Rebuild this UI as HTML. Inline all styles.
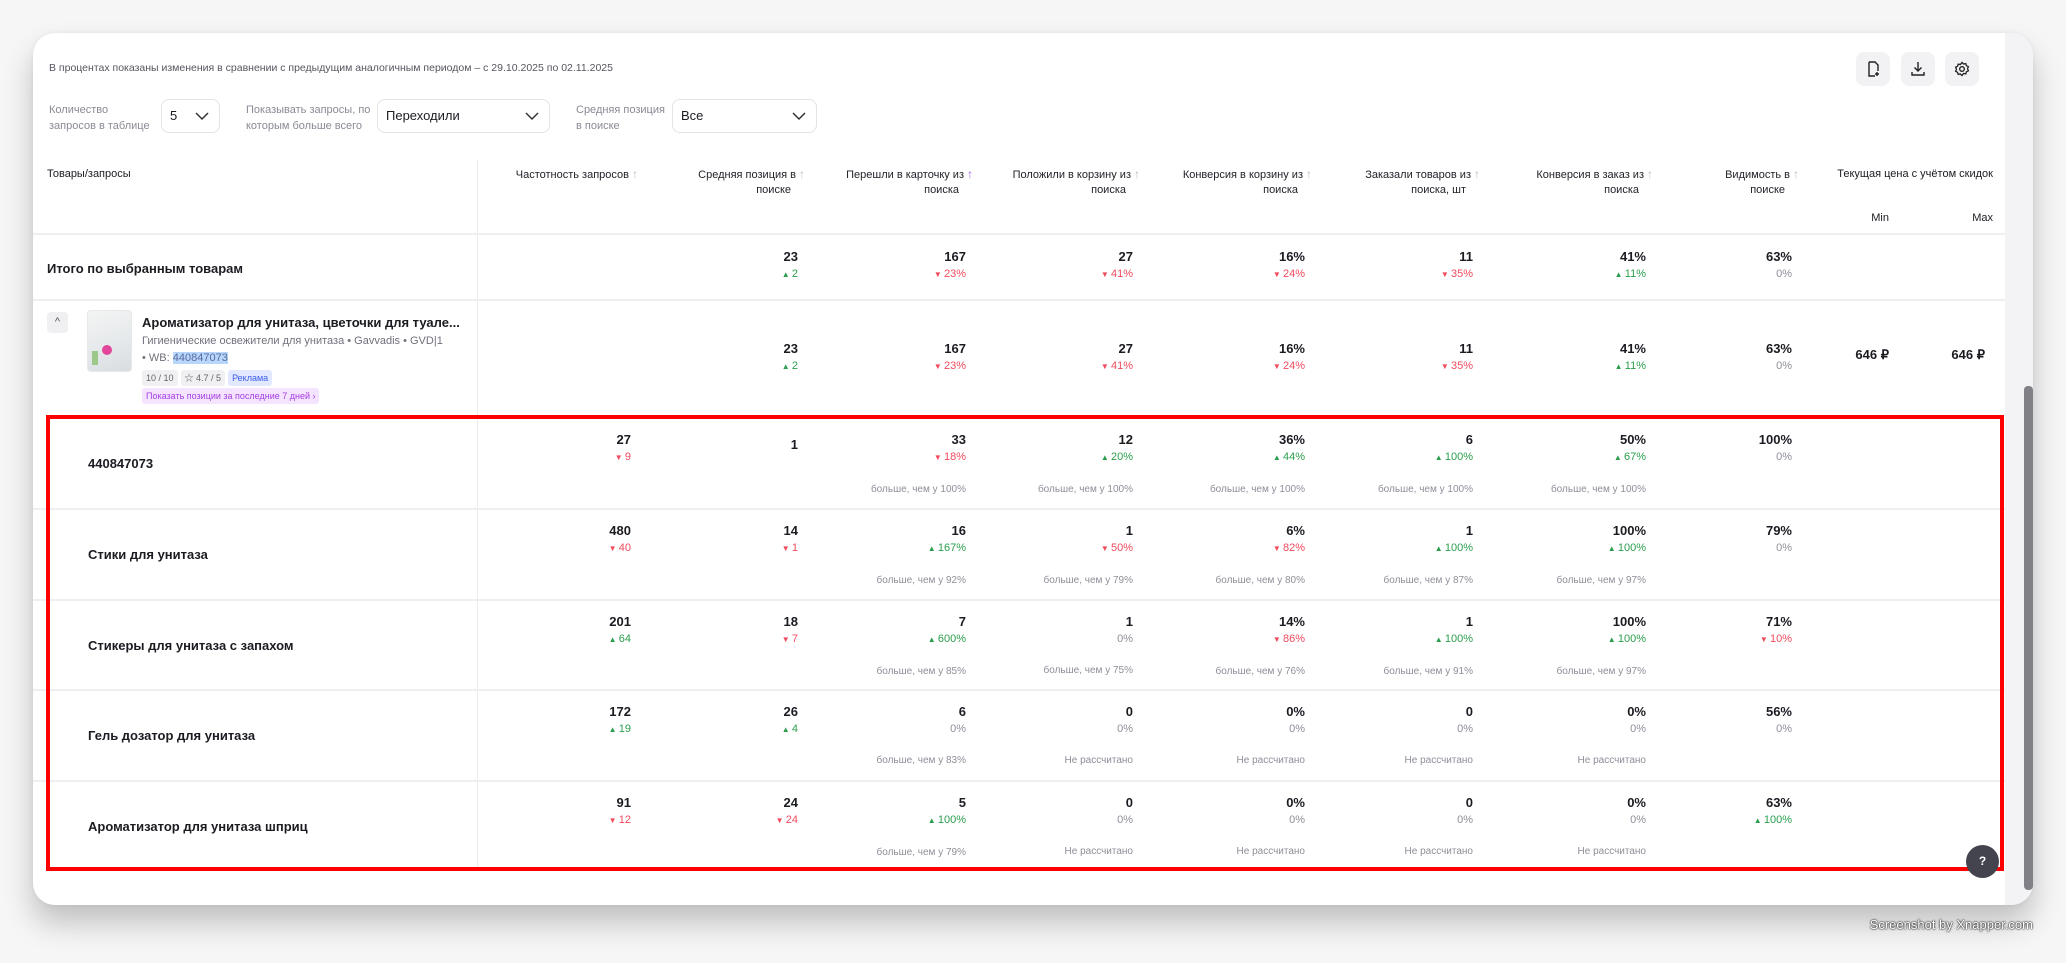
<!DOCTYPE html>
<html><head><meta charset="utf-8">
<style>
*{margin:0;padding:0;box-sizing:border-box}
body{width:2066px;height:963px;background:#f6f6f7;font-family:"Liberation Sans","Noto Sans CJK SC",sans-serif;position:relative;overflow:hidden;color:#1b1b22}
.card{position:absolute;left:33px;top:33px;width:2000px;height:872px;background:#fff;border-radius:22px;box-shadow:0 18px 30px rgba(0,0,0,.22),0 0 6px rgba(0,0,0,.06);overflow:hidden}
.track{position:absolute;left:2005px;top:33px;width:28px;height:872px;background:#f3f3f5;border-radius:0 22px 22px 0}
.thumb{position:absolute;left:2024px;top:386px;width:9px;height:504px;background:#808086;border-radius:4px}
.a{position:absolute;white-space:nowrap}
.hline{position:absolute;left:33px;width:1972px;height:2px;background:#efeff2}
.lbl{font-size:11px;color:#8a8a96;line-height:16px}
.sel{position:absolute;height:34px;border:1px solid #e3e3e8;border-radius:8px;font-size:13px;line-height:32px;padding-left:8px;color:#1b1b22}
.sel svg{position:absolute;right:10px;top:11px}
.btn{position:absolute;top:52px;width:34px;height:34px;background:#f2f2f5;border-radius:8px}
.btn svg{position:absolute;left:9px;top:9px}
.h{position:absolute;top:167px;font-size:11px;line-height:15px;text-align:right;color:#22222a;width:200px}
.h i{font-style:normal;color:#b8b8c4;font-size:12px;margin-left:3px}
.h .p{color:#a45cf5}
.h span.l2{display:block;padding-right:14px}
.cell{position:absolute;width:160px;text-align:right}
.n{font-size:13px;font-weight:bold;line-height:16px;display:block}
.c{font-size:11px;line-height:18px;display:block}
.s{font-size:10px;line-height:14px;margin-top:16px;display:block;color:#8e8e99}
.up{color:#2a9e4c}.dn{color:#f04a5d}.z{color:#8e8e99}
.up:before{content:"▲ ";font-size:8px}
.dn:before{content:"▼ ";font-size:8px}
.q{position:absolute;left:88px;font-size:13px;font-weight:bold;line-height:18px}
.red{position:absolute;left:46px;top:415px;width:1958px;height:456px;border:4px solid #ff0000}
.badge{display:inline-block;font-size:9px;line-height:16px;padding:0 4px;border-radius:3px;margin-right:3px}
</style></head><body>
<div class="card"></div>
<div class="track"></div>
<div class="thumb"></div>

<div class="a" style="left:49px;top:62px;font-size:10.5px;color:#555560">В процентах показаны изменения в сравнении с предыдущим аналогичным периодом – с 29.10.2025 по 02.11.2025</div>

<div class="a lbl" style="left:49px;top:102px">Количество<br>запросов в таблице</div>
<div class="sel" style="left:161px;top:99px;width:59px">5<svg width="14" height="10"><path d="M1 2l6 6 6-6" stroke="#333" fill="none" stroke-width="1.5"/></svg></div>
<div class="a lbl" style="left:246px;top:102px">Показывать запросы, по<br>которым больше всего</div>
<div class="sel" style="left:377px;top:99px;width:173px">Переходили<svg width="14" height="10"><path d="M1 2l6 6 6-6" stroke="#333" fill="none" stroke-width="1.5"/></svg></div>
<div class="a lbl" style="left:576px;top:102px">Средняя позиция<br>в поиске</div>
<div class="sel" style="left:672px;top:99px;width:145px">Все<svg width="14" height="10"><path d="M1 2l6 6 6-6" stroke="#333" fill="none" stroke-width="1.5"/></svg></div>

<div class="btn" style="left:1856px"><svg width="16" height="16"><path d="M4 1h6l3 3v6M4 1v14h6" stroke="#222" fill="none" stroke-width="1.4"/><path d="M12 11v4M10 13h4" stroke="#222" stroke-width="1.4"/></svg></div>
<div class="btn" style="left:1901px"><svg width="16" height="16"><path d="M8 1v9M4.5 6.5L8 10l3.5-3.5M2 11v3h12v-3" stroke="#222" fill="none" stroke-width="1.4"/></svg></div>
<div class="btn" style="left:1945px"><svg width="16" height="16"><circle cx="8" cy="8" r="2.3" stroke="#222" fill="none" stroke-width="1.4"/><path d="M8 1.5l1.6 1.5 2.2-.4.6 2.1 2 1-.9 2 .9 2.1-2 1-.6 2.1-2.2-.4L8 14.5l-1.6-1.5-2.2.4-.6-2.1-2-1 .9-2.1-.9-2 2-1 .6-2.1 2.2.4z" stroke="#222" fill="none" stroke-width="1.3"/></svg></div>

<!-- table header -->
<div class="a" style="left:47px;top:167px;font-size:11px;line-height:15px">Товары/запросы</div>
<div class="a" style="left:477px;top:160px;width:1px;height:711px;background:#ececf0"></div>
<div class="h" style="left:438px">Частотность запросов<i>↑</i></div>
<div class="h" style="left:605px">Средняя позиция в<i>↑</i><span class="l2">поиске</span></div>
<div class="h" style="left:773px">Перешли в карточку из<i class="p">↑</i><span class="l2">поиска</span></div>
<div class="h" style="left:940px">Положили в корзину из<i>↑</i><span class="l2">поиска</span></div>
<div class="h" style="left:1112px">Конверсия в корзину из<i>↑</i><span class="l2">поиска</span></div>
<div class="h" style="left:1280px">Заказали товаров из<i>↑</i><span class="l2">поиска, шт</span></div>
<div class="h" style="left:1453px">Конверсия в заказ из<i>↑</i><span class="l2">поиска</span></div>
<div class="h" style="left:1599px">Видимость в<i>↑</i><span class="l2">поиске</span></div>
<div class="a" style="right:73px;top:167px;font-size:11px;line-height:15px">Текущая цена с учётом скидок</div>
<div class="a" style="right:177px;top:211px;font-size:11px;line-height:15px">Min</div>
<div class="a" style="right:73px;top:211px;font-size:11px;line-height:15px">Max</div>

<div class="hline" style="top:233px"></div>
<div class="hline" style="top:299px"></div>
<div class="hline" style="top:508px"></div>
<div class="hline" style="top:599px"></div>
<div class="hline" style="top:689px"></div>
<div class="hline" style="top:780px"></div>

<!-- Итого -->
<div class="a" style="left:47px;top:260px;font-size:13px;font-weight:bold;line-height:18px">Итого по выбранным товарам</div>
<div class="cell" style="left:638px;top:249px"><b class="n">23</b><span class="c up">2</span></div>
<div class="cell" style="left:806px;top:249px"><b class="n">167</b><span class="c dn">23%</span></div>
<div class="cell" style="left:973px;top:249px"><b class="n">27</b><span class="c dn">41%</span></div>
<div class="cell" style="left:1145px;top:249px"><b class="n">16%</b><span class="c dn">24%</span></div>
<div class="cell" style="left:1313px;top:249px"><b class="n">11</b><span class="c dn">35%</span></div>
<div class="cell" style="left:1486px;top:249px"><b class="n">41%</b><span class="c up">11%</span></div>
<div class="cell" style="left:1632px;top:249px"><b class="n">63%</b><span class="c z">0%</span></div>

<!-- product -->
<div class="a" style="left:47px;top:312px;width:21px;height:21px;background:#f0f0f3;border-radius:4px;font-size:11px;text-align:center;line-height:21px;color:#555">^</div>
<div class="a" style="left:87px;top:310px;width:45px;height:62px;border-radius:4px;background:linear-gradient(160deg,#f4f4f4,#e4e8ea 60%,#d8dde0);border:1px solid #e8e8e8"><div style="position:absolute;left:14px;top:34px;width:10px;height:10px;border-radius:5px;background:#e2459a"></div><div style="position:absolute;left:4px;top:40px;width:6px;height:14px;background:#9cc98a"></div></div>
<div class="a" style="left:142px;top:314px;font-size:13px;font-weight:bold;line-height:18px">Ароматизатор для унитаза, цветочки для туале...</div>
<div class="a" style="left:142px;top:334px;font-size:11px;line-height:15px;color:#70707c">Гигиенические освежители для унитаза • Gavvadis • GVD|1</div>
<div class="a" style="left:142px;top:350px;font-size:11px;line-height:16px;color:#70707c">• WB: <span style="background:#b7d6fb;color:#5a6aa0">440847073</span></div>
<div class="a" style="left:142px;top:368px"><span class="badge" style="background:#f0f0f3;color:#666">10 / 10</span><span class="badge" style="background:#f0f0f3;color:#666">☆ 4.7 / 5</span><span class="badge" style="background:#e1e8ff;color:#3c5ee6">Реклама</span></div>
<div class="a" style="left:142px;top:386px"><span class="badge" style="background:#f5e4ff;color:#a43ee3">Показать позиции за последние 7 дней ›</span></div>
<div class="cell" style="left:638px;top:341px"><b class="n">23</b><span class="c up">2</span></div>
<div class="cell" style="left:806px;top:341px"><b class="n">167</b><span class="c dn">23%</span></div>
<div class="cell" style="left:973px;top:341px"><b class="n">27</b><span class="c dn">41%</span></div>
<div class="cell" style="left:1145px;top:341px"><b class="n">16%</b><span class="c dn">24%</span></div>
<div class="cell" style="left:1313px;top:341px"><b class="n">11</b><span class="c dn">35%</span></div>
<div class="cell" style="left:1486px;top:341px"><b class="n">41%</b><span class="c up">11%</span></div>
<div class="cell" style="left:1632px;top:341px"><b class="n">63%</b><span class="c z">0%</span></div>
<div class="a" style="right:177px;top:347px;font-size:13px;font-weight:bold">646 ₽</div>
<div class="a" style="right:81px;top:347px;font-size:13px;font-weight:bold">646 ₽</div>

<!-- query rows -->
<div class="q" style="top:455px">440847073</div>
<div class="cell" style="left:471px;top:432px"><b class="n">27</b><span class="c dn">9</span></div>
<div class="cell" style="left:638px;top:437px"><b class="n">1</b></div>
<div class="cell" style="left:806px;top:432px"><b class="n">33</b><span class="c dn">18%</span><span class="s">больше, чем у 100%</span></div>
<div class="cell" style="left:973px;top:432px"><b class="n">12</b><span class="c up">20%</span><span class="s">больше, чем у 100%</span></div>
<div class="cell" style="left:1145px;top:432px"><b class="n">36%</b><span class="c up">44%</span><span class="s">больше, чем у 100%</span></div>
<div class="cell" style="left:1313px;top:432px"><b class="n">6</b><span class="c up">100%</span><span class="s">больше, чем у 100%</span></div>
<div class="cell" style="left:1486px;top:432px"><b class="n">50%</b><span class="c up">67%</span><span class="s">больше, чем у 100%</span></div>
<div class="cell" style="left:1632px;top:432px"><b class="n">100%</b><span class="c z">0%</span></div>

<div class="q" style="top:546px">Стики для унитаза</div>
<div class="cell" style="left:471px;top:523px"><b class="n">480</b><span class="c dn">40</span></div>
<div class="cell" style="left:638px;top:523px"><b class="n">14</b><span class="c dn">1</span></div>
<div class="cell" style="left:806px;top:523px"><b class="n">16</b><span class="c up">167%</span><span class="s">больше, чем у 92%</span></div>
<div class="cell" style="left:973px;top:523px"><b class="n">1</b><span class="c dn">50%</span><span class="s">больше, чем у 79%</span></div>
<div class="cell" style="left:1145px;top:523px"><b class="n">6%</b><span class="c dn">82%</span><span class="s">больше, чем у 80%</span></div>
<div class="cell" style="left:1313px;top:523px"><b class="n">1</b><span class="c up">100%</span><span class="s">больше, чем у 87%</span></div>
<div class="cell" style="left:1486px;top:523px"><b class="n">100%</b><span class="c up">100%</span><span class="s">больше, чем у 97%</span></div>
<div class="cell" style="left:1632px;top:523px"><b class="n">79%</b><span class="c z">0%</span></div>

<div class="q" style="top:637px">Стикеры для унитаза с запахом</div>
<div class="cell" style="left:471px;top:614px"><b class="n">201</b><span class="c up">64</span></div>
<div class="cell" style="left:638px;top:614px"><b class="n">18</b><span class="c dn">7</span></div>
<div class="cell" style="left:806px;top:614px"><b class="n">7</b><span class="c up">600%</span><span class="s">больше, чем у 85%</span></div>
<div class="cell" style="left:973px;top:614px"><b class="n">1</b><span class="c z">0%</span><span class="s">больше, чем у 75%</span></div>
<div class="cell" style="left:1145px;top:614px"><b class="n">14%</b><span class="c dn">86%</span><span class="s">больше, чем у 76%</span></div>
<div class="cell" style="left:1313px;top:614px"><b class="n">1</b><span class="c up">100%</span><span class="s">больше, чем у 91%</span></div>
<div class="cell" style="left:1486px;top:614px"><b class="n">100%</b><span class="c up">100%</span><span class="s">больше, чем у 97%</span></div>
<div class="cell" style="left:1632px;top:614px"><b class="n">71%</b><span class="c dn">10%</span></div>

<div class="q" style="top:727px">Гель дозатор для унитаза</div>
<div class="cell" style="left:471px;top:704px"><b class="n">172</b><span class="c up">19</span></div>
<div class="cell" style="left:638px;top:704px"><b class="n">26</b><span class="c up">4</span></div>
<div class="cell" style="left:806px;top:704px"><b class="n">6</b><span class="c z">0%</span><span class="s">больше, чем у 83%</span></div>
<div class="cell" style="left:973px;top:704px"><b class="n">0</b><span class="c z">0%</span><span class="s">Не рассчитано</span></div>
<div class="cell" style="left:1145px;top:704px"><b class="n">0%</b><span class="c z">0%</span><span class="s">Не рассчитано</span></div>
<div class="cell" style="left:1313px;top:704px"><b class="n">0</b><span class="c z">0%</span><span class="s">Не рассчитано</span></div>
<div class="cell" style="left:1486px;top:704px"><b class="n">0%</b><span class="c z">0%</span><span class="s">Не рассчитано</span></div>
<div class="cell" style="left:1632px;top:704px"><b class="n">56%</b><span class="c z">0%</span></div>

<div class="q" style="top:818px">Ароматизатор для унитаза шприц</div>
<div class="cell" style="left:471px;top:795px"><b class="n">91</b><span class="c dn">12</span></div>
<div class="cell" style="left:638px;top:795px"><b class="n">24</b><span class="c dn">24</span></div>
<div class="cell" style="left:806px;top:795px"><b class="n">5</b><span class="c up">100%</span><span class="s">больше, чем у 79%</span></div>
<div class="cell" style="left:973px;top:795px"><b class="n">0</b><span class="c z">0%</span><span class="s">Не рассчитано</span></div>
<div class="cell" style="left:1145px;top:795px"><b class="n">0%</b><span class="c z">0%</span><span class="s">Не рассчитано</span></div>
<div class="cell" style="left:1313px;top:795px"><b class="n">0</b><span class="c z">0%</span><span class="s">Не рассчитано</span></div>
<div class="cell" style="left:1486px;top:795px"><b class="n">0%</b><span class="c z">0%</span><span class="s">Не рассчитано</span></div>
<div class="cell" style="left:1632px;top:795px"><b class="n">63%</b><span class="c up">100%</span></div>

<div class="red"></div>
<div class="a" style="left:1966px;top:845px;width:33px;height:33px;border-radius:17px;background:#44444f;color:#fff;font-size:12px;font-weight:bold;text-align:center;line-height:33px">?</div>
<div class="a" style="right:33px;top:917px;font-size:13px;color:#fff;text-shadow:0 0 2px #000,0 0 1px #000">Screenshot by Xnapper.com</div>
</body></html>
